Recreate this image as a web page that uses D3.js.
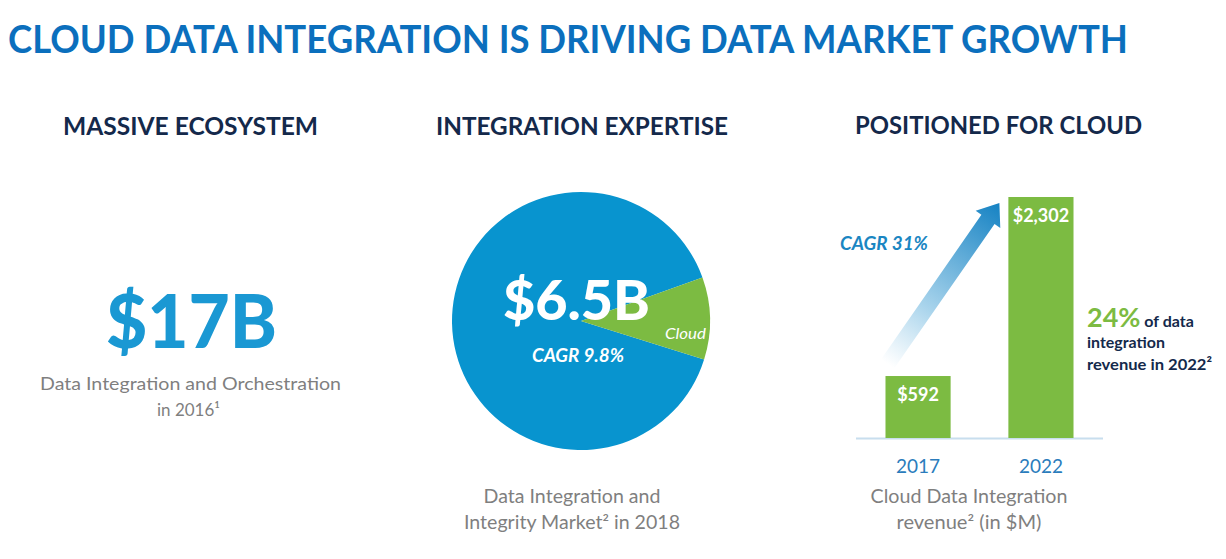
<!DOCTYPE html>
<html>
<head>
<meta charset="utf-8">
<script src="https://cdn.jsdelivr.net/npm/d3@7"></script>
<style>
  html, body { margin: 0; padding: 0; background: #ffffff; }
  svg { display: block; font-family: Lato, "Open Sans", sans-serif; }
</style>
</head>
<body>
<svg id="chart" width="1226" height="559"></svg>
<script>
// ---- data ----
const pieLabels = ["Other", "Cloud"];
const pieValues = [5.83, 0.67];          // $B, total 6.5B
const barYears = ["2017", "2022"];
const barValues = [592, 2302];          // $M
const barLabels = ["$592", "$2,302"];

// ---- colors ----
const C = {
  title: "#0b6fbd",
  navy: "#14294b",
  big: "#1a98d3",
  gray: "#7f7f7f",
  pieBlue: "#0894cf",
  green: "#7cbb42",
  year: "#2b7cbc",
  cagr: "#1a86c2",
  base: "#c8deee"
};

const svg = d3.select("#chart");

function txt(x, y, s, o) {
  const t = svg.append("text").attr("x", x).attr("y", y).text(s)
    .attr("font-size", o.size).attr("fill", o.fill)
    .attr("font-weight", o.weight || 400)
    .attr("font-style", o.style || "normal")
    .attr("text-anchor", o.anchor || "start");
  if (o.len) t.attr("textLength", o.len).attr("lengthAdjust", "spacingAndGlyphs");
  return t;
}

// ---- title and section headings ----
txt(8, 52.5, "CLOUD DATA INTEGRATION IS DRIVING DATA MARKET GROWTH", {size: 38, fill: C.title, weight: 700, len: 1120});
txt(63, 135, "MASSIVE  ECOSYSTEM", {size: 25, fill: C.navy, weight: 700, len: 255});
txt(436, 135, "INTEGRATION EXPERTISE", {size: 25, fill: C.navy, weight: 700, len: 292});
txt(855, 134, "POSITIONED FOR CLOUD", {size: 25, fill: C.navy, weight: 700, len: 287});

// ---- left panel ----
txt(106, 348, "$17B", {size: 74, fill: C.big, weight: 900, len: 171});
txt(40, 390, "Data Integration and Orchestration", {size: 18, fill: C.gray, len: 301});
txt(157, 416, "in 2016¹", {size: 18, fill: C.gray, len: 63});

// ---- pie ----
const cx = 581, cy = 321, R = 129;
const total = d3.sum(pieValues);
const cloudStart = 70.3 * Math.PI / 180;
const a0 = cloudStart - (pieValues[0] / total) * 2 * Math.PI;
const pie = d3.pie().sort(null).startAngle(a0).endAngle(a0 + 2 * Math.PI);
const arc = d3.arc().innerRadius(0).outerRadius(R);
const pieColor = d3.scaleOrdinal().domain(pieLabels).range([C.pieBlue, C.green]);
svg.append("g").attr("transform", `translate(${cx},${cy})`)
  .selectAll("path").data(pie(pieValues)).join("path")
  .attr("d", arc).attr("fill", (d, i) => pieColor(pieLabels[i]));

txt(503, 320, "$6.5B", {size: 56, fill: "#ffffff", weight: 900, len: 147});
txt(532, 362, "CAGR 9.8%", {size: 18, fill: "#ffffff", weight: 700, style: "italic", len: 92});
txt(665, 339, pieLabels[1], {size: 16, fill: "#ffffff", style: "italic", len: 41});

txt(572, 503, "Data Integration and", {size: 18.5, fill: C.gray, anchor: "middle", len: 177});
txt(572, 529, "Integrity Market² in 2018", {size: 18.5, fill: C.gray, anchor: "middle", len: 216});

// ---- bar chart ----
const x = d3.scaleBand().domain(barYears).range([856, 1103]).paddingInner(0.47).paddingOuter(0.24);
const y = d3.scaleLinear().domain([0, 2302]).range([438, 197]);

// arrow with gradient
const defs = svg.append("defs");
const x0 = x(barYears[0]) + 2, y0 = y(barValues[0]) - 12;
const x1 = x(barYears[1]) - 9, y1 = y(barValues[1]) + 6;
const grad = defs.append("linearGradient").attr("id", "arrowGrad")
  .attr("gradientUnits", "userSpaceOnUse")
  .attr("x1", x0).attr("y1", y0).attr("x2", x1).attr("y2", y1);
grad.append("stop").attr("offset", "0").attr("stop-color", "#ffffff").attr("stop-opacity", 0.9);
grad.append("stop").attr("offset", "0.35").attr("stop-color", "#a9d4ec");
grad.append("stop").attr("offset", "1").attr("stop-color", "#1582c3");

const dx = x1 - x0, dy = y1 - y0, L = Math.hypot(dx, dy);
const ux = dx / L, uy = dy / L, nx = -uy, ny = ux;
const sw = 8, hw = 15, hl = 20;
const bx = x1 - ux * hl, by = y1 - uy * hl;
const pts = [
  [x0 + nx * sw, y0 + ny * sw],
  [bx + nx * sw, by + ny * sw],
  [bx + nx * hw, by + ny * hw],
  [x1, y1],
  [bx - nx * hw, by - ny * hw],
  [bx - nx * sw, by - ny * sw],
  [x0 - nx * sw, y0 - ny * sw]
];
svg.append("polygon").attr("points", pts.map(p => p.join(",")).join(" ")).attr("fill", "url(#arrowGrad)");

// baseline
svg.append("line").attr("x1", 856).attr("x2", 1103).attr("y1", y(0) + 0.5).attr("y2", y(0) + 0.5)
  .attr("stroke", C.base).attr("stroke-width", 2);

svg.append("g").selectAll("rect").data(barValues).join("rect")
  .attr("x", (d, i) => x(barYears[i]))
  .attr("width", x.bandwidth())
  .attr("y", d => y(d))
  .attr("height", d => y(0) - y(d))
  .attr("fill", C.green);

svg.append("g").selectAll("text").data(barValues).join("text")
  .attr("x", (d, i) => x(barYears[i]) + x.bandwidth() / 2)
  .attr("y", d => y(d) + 25)
  .attr("text-anchor", "middle")
  .attr("font-size", 18).attr("font-weight", 700).attr("fill", "#ffffff")
  .text((d, i) => barLabels[i]);

// x axis labels
const xAxis = d3.axisBottom(x).tickSize(0).tickPadding(0);
const ax = svg.append("g").attr("transform", `translate(0,${y(0)})`).call(xAxis);
ax.select(".domain").remove();
ax.selectAll("text").attr("dy", null).attr("y", 35)
  .attr("font-family", "Lato, 'Open Sans', sans-serif")
  .attr("font-size", 19).attr("fill", C.year);

txt(840, 250, "CAGR 31%", {size: 19, fill: C.cagr, weight: 700, style: "italic", len: 88});

const side = svg.append("text").attr("x", 1087).attr("y", 327).attr("font-weight", 700);
side.append("tspan").text("24%").attr("font-size", 27).attr("fill", C.green);
side.append("tspan").text(" of data").attr("font-size", 16).attr("fill", C.navy);
txt(1087, 348, "integration", {size: 16, fill: C.navy, weight: 700, len: 78});
txt(1087, 370, "revenue in 2022²", {size: 16, fill: C.navy, weight: 700, len: 125});

txt(969, 503, "Cloud Data Integration", {size: 18.5, fill: C.gray, anchor: "middle", len: 197});
txt(969, 529, "revenue² (in $M)", {size: 18.5, fill: C.gray, anchor: "middle", len: 145});
</script>
</body>
</html>
